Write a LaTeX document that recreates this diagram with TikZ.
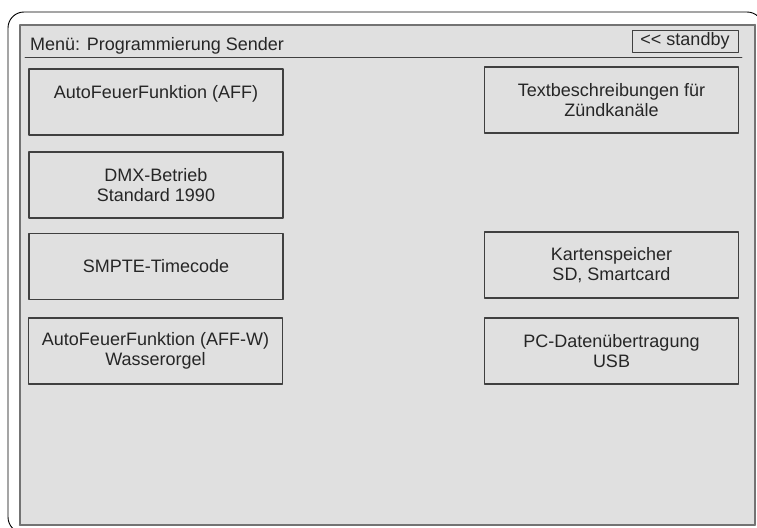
\documentclass[tikz,border=0pt]{standalone}
\usepackage{fontspec}
\setmainfont{Liberation Sans}
\begin{document}
\begin{tikzpicture}[x=1pt,y=-1pt, line join=round, line cap=round,
	font=\fontsize{18}{20}\selectfont,
	knopf/.style={draw=black!75, line width=1.2pt, minimum width=254pt, minimum height=66pt, inner sep=0pt, align=center, text=black!85}]
	\useasboundingbox (0,0) rectangle (757,527);
	\clip (0,0) rectangle (757,527);
	% Gehaeuse und Bildschirm
	\draw[line width=0.9pt, rounded corners=16pt] (8,12) rectangle (763,533);
	\draw[fill=black!12, draw=black!55, line width=1.6pt] (20,25) rectangle (755,525);
	\draw[black!55, line width=2.6pt] (755,25) -- (755,525) -- (20,525);
	\node[anchor=base west, inner sep=0pt, text=black!85] (titel) at (30,51) {Menü: Programmierung Sender};
	\draw[black!75, line width=0.8pt] (25,57) -- (742,57);
	\node[draw=black!75, line width=0.8pt, minimum width=106pt, minimum height=22pt, inner sep=0pt, text=black!85] (standby) at (685,41) {<\kern0pt< standby};
	% Menuepunkte
	\foreach \n/\x/\y/\txt in {
		aff/156/102/{AutoFeuerFunktion (AFF)\\~},
		dmx/156/185/{DMX-Betrieb\\Standard 1990},
		smpte/156/266.5/{SMPTE-Timecode},
		affw/155.5/351/{AutoFeuerFunktion (AFF-W)\\Wasserorgel},
		text/611.5/100/{Textbeschreibungen für\\Zündkanäle},
		karte/611.5/265/{Kartenspeicher\\SD, Smartcard},
		pc/611.5/351/{PC-Datenübertragung\\USB}}
	\node[knopf] (\n) at (\x,\y) {\txt};
\end{tikzpicture}
\end{document}
